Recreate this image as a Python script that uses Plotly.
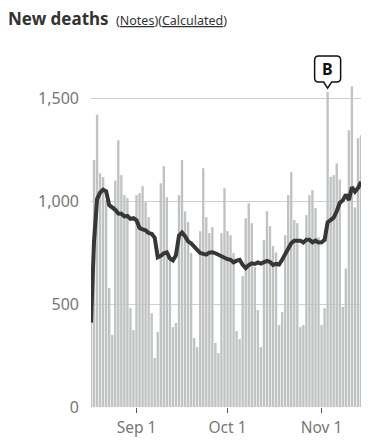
import plotly.graph_objects as go
import pandas as pd

# ---- data ----
start_date = "2020-08-17"
end_date = "2020-11-14"

new_deaths = [
    # Aug 17 - Aug 31
    410, 1200, 1420, 1135, 1117, 1005, 578, 350, 1100, 1296, 1126, 1029, 1015, 480, 374,
    # Sep 1 - Sep 30
    1029, 1039, 1073, 995, 922, 456, 238, 364, 1087, 1170, 1019, 720, 388, 408, 1029,
    1200, 950, 898, 748, 335, 291, 854, 1160, 922, 845, 874, 311, 262, 845, 1063,
    # Oct 1 - Oct 31
    854, 835, 748, 369, 330, 636, 917, 990, 893, 680, 471, 291, 811, 951, 879,
    782, 750, 398, 461, 835, 1029, 1141, 908, 893, 388, 398, 932, 1029, 1053, 966, 825,
    # Nov 1 - Nov 14
    398, 480, 1530, 1118, 1126, 1183, 1105, 487, 673, 1345, 1558, 970, 1306, 1320,
]

seven_day_avg = [
    410, 805, 1010, 1041, 1056, 1048, 981, 972, 958, 940, 939, 926, 928, 914, 917,
    907, 870, 863, 858, 845, 841, 822, 727, 734, 747, 751, 722, 712, 737, 832,
    848, 830, 805, 795, 780, 760, 748, 744, 740, 750, 752, 747, 740, 732, 722,
    718, 715, 703, 711, 715, 691, 675, 689, 698, 695, 702, 697, 705, 710, 705,
    690, 695, 692, 715, 745, 775, 795, 808, 809, 808, 799, 813, 813, 800, 808,
    799, 800, 812, 897, 910, 920, 951, 991, 1004, 1032, 1005, 1068, 1046, 1063, 1094,
]

tick_dates = ["2020-09-01", "2020-10-01", "2020-11-01"]
tick_labels = ["Sep 1", "Oct 1", "Nov 1"]
y_ticks = [0, 500, 1000, 1500]
y_labels = ["0", "500", "1,000", "1,500"]

note_date = "2020-11-03"
note_value = 1530
note_label = "B"

dates = pd.date_range(start_date, end_date, freq="D")

FONT = "Noto Sans"

fig = go.Figure()
fig.add_trace(go.Bar(
    x=dates, y=new_deaths,
    marker=dict(color="#bfc3c1", line=dict(width=0)),
    hoverinfo="skip",
))
fig.add_trace(go.Scatter(
    x=dates, y=seven_day_avg, mode="lines",
    line=dict(color="#373737", width=4),
    hoverinfo="skip",
))

# callout box with pointer
L, R, T, B, r, tip = -13, 13, 36, 10, 4, 4
path = (f"M {L+r},{T} L {R-r},{T} Q {R},{T} {R},{T-r} L {R},{B+r} Q {R},{B} {R-r},{B} "
        f"L 4,{B} L 0,{tip} L -4,{B} L {L+r},{B} Q {L},{B} {L},{B+r} L {L},{T-r} Q {L},{T} {L+r},{T} Z")
fig.add_shape(type="path", path=path, xref="x", yref="y",
              xsizemode="pixel", ysizemode="pixel",
              xanchor=note_date, yanchor=note_value,
              fillcolor="white", line=dict(color="#111", width=1.5), layer="above")
fig.add_annotation(x=note_date, y=note_value, yshift=(T + B) / 2, text=f"<b>{note_label}</b>",
                   showarrow=False, font=dict(family=FONT, size=16, color="#111"))

# header texts
fig.add_annotation(xref="paper", yref="paper", x=(6 - 91) / 270, y=(407 - 19) / 352,
                   xanchor="left", yanchor="middle", showarrow=False,
                   text="<b>New deaths</b>", font=dict(family=FONT, size=17, color="#333"))
fig.add_annotation(xref="paper", yref="paper", x=(114 - 91) / 270, y=(407 - 21) / 352,
                   xanchor="left", yanchor="middle", showarrow=False,
                   text="(<u>Notes</u>)(<u>Calculated</u>)",
                   font=dict(family=FONT, size=12.5, color="#333"))

fig.update_layout(
    width=377, height=441,
    margin=dict(l=91, r=16, t=55, b=34, autoexpand=False),
    plot_bgcolor="white", paper_bgcolor="white",
    showlegend=False, bargap=0.22,
    font=dict(family=FONT),
)
fig.update_xaxes(
    type="date", range=[start_date, end_date], automargin=False,
    tickvals=tick_dates, ticktext=tick_labels,
    ticks="outside", ticklen=5, tickcolor="#555", tickwidth=1,
    showgrid=False, zeroline=False, showline=False,
    tickfont=dict(family=FONT, size=15.5, color="#777"),
    ticklabelstandoff=1,
)
fig.update_yaxes(
    range=[0, 1710], tickvals=y_ticks, ticktext=y_labels, automargin=False,
    showgrid=True, gridcolor="#cfcfcf", gridwidth=1,
    zeroline=False, showline=False, ticks="",
    tickfont=dict(family=FONT, size=16, color="#777"),
    ticklabelstandoff=11,
)

fig.write_html("out.html", config={"displayModeBar": False})
